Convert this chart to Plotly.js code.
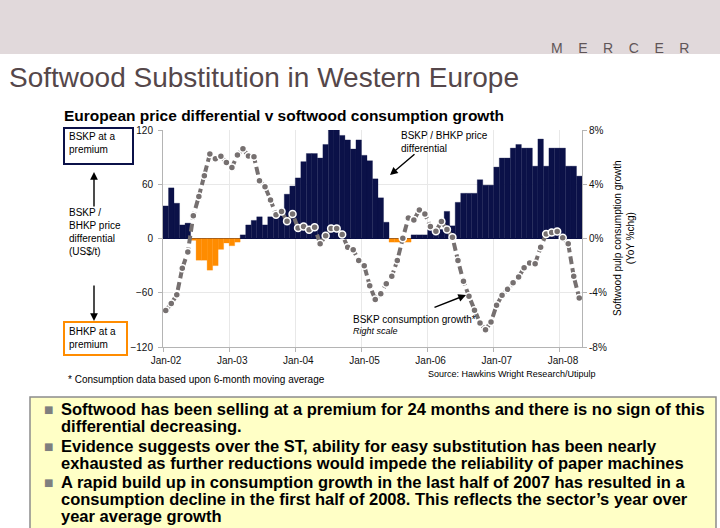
<!DOCTYPE html>
<html>
<head>
<meta charset="utf-8">
<script src="https://cdn.plot.ly/plotly-3.0.1.min.js"></script>
<style>
html,body{margin:0;padding:0;background:#ffffff;}
#chart{width:720px;height:528px;}
</style>
</head>
<body>
<div id="chart"></div>
<script>
// ---------------- DATA ----------------
const yearLabels = ['Jan-02','Jan-03','Jan-04','Jan-05','Jan-06','Jan-07','Jan-08'];

// BSKP / BHKP price differential, US$/t, monthly Jan-02 .. Apr-08 (left scale)
const priceDiff = [
  36, 56, 39, 15, 17, -2, -24, -24, -35, -30, -12, -5,
  -8, -4, 4, 15, 20, 24, 15, 24, 24, 28, 49, 58,
  67, 85, 94, 94, 89, 104, 120, 120, 114, 109, 99, 109,
  92, 86, 66, 45, 18, -4, -4, -4, -4, 4, 4, 4,
  10, 10, 10, 30, 14, 40, 50, 50, 50, 65, 59, 59,
  79, 89, 89, 100, 104, 100, 100, 80, 110, 80, 100, 100,
  100, 80, 80, 69
];

// Softwood pulp consumption growth, YoY %, monthly (right scale)
const consGrowth = [
  -5.3, -4.8, -4.15, -2.2, -1.0, 1.68, 3.1, 4.63, 6.23, 5.88, 6.06, 5.61,
  5.24, 6.15, 6.62, 6.08, 6.03, 4.26, 3.82, 2.84, 1.76, 1.99, 1.27, 1.81,
  0.78, 0.88, 0.64, 0.83, -0.39, 0.2, 0.74, 0.74, 0.29, -0.64, -0.83, -1.62,
  -2.0, -3.48, -4.49, -4.07, -3.33, -2.79, -1.62, 0.02, 1.52, 1.37, 2.11, 1.81,
  0.88, 0.54, 1.25, 0.66, 0.1, -1.62, -3.16, -4.26, -5.29, -6.23, -6.72, -6.15,
  -4.93, -4.19, -3.75, -3.26, -2.84, -2.16, -1.81, -1.86, -0.64, 0.34, 0.44, 0.51,
  0.05, -0.39, -2.79, -4.39
];

const leftTicks = [-120, -60, 0, 60, 120];
const rightTicks = [-8, -4, 0, 4, 8];
const rightTickText = ['-8%', '-4%', '0%', '4%', '8%'];

// ---------------- STYLE ----------------
const NAVY = '#0b1148';
const ORANGE = '#ff8c00';
const LINEGREY = '#767070';
const AXISGREY = '#b4b4b4';
const GRID = '#e8e8e8';
const FONT = 'Liberation Sans, Arial, sans-serif';

const L = 163, R = 582, T = 130, B = 347;
const fx = px => (px - L) / (R - L);
const fy = py => (B - py) / (B - T);

const monthIdx = priceDiff.map((_, i) => i);
const barColors = priceDiff.map(v => v >= 0 ? NAVY : ORANGE);

const bars = {
  type: 'bar', x: monthIdx, y: priceDiff, yaxis: 'y', xaxis: 'x',
  width: 1, marker: {color: barColors, line: {color: barColors, width: 0.3}},
  hoverinfo: 'skip', showlegend: false
};
const line = {
  type: 'scatter', mode: 'lines+markers', x: monthIdx, y: consGrowth,
  xaxis: 'x', yaxis: 'y2',
  line: {color: LINEGREY, width: 4, dash: '8px,4px'},
  marker: {color: LINEGREY, size: 7, line: {color: '#ffffff', width: 1.5}},
  hoverinfo: 'skip', showlegend: false
};

const anns = [];
function txt(text, px, py, size, opts) {
  anns.push(Object.assign({
    xref: 'paper', yref: 'paper', x: fx(px), y: fy(py), text: text,
    showarrow: false, xanchor: 'left', yanchor: 'middle', align: 'left',
    font: {family: FONT, size: size, color: '#000000'}
  }, opts || {}));
}
function arrow(hx, hy, tx, ty) {
  anns.push({
    xref: 'paper', yref: 'paper', x: fx(hx), y: fy(hy), text: '',
    showarrow: true, ax: tx - hx, ay: ty - hy, arrowhead: 2, arrowsize: 1.1,
    arrowwidth: 1.4, arrowcolor: '#000000'
  });
}

// header
txt('M\u00a0\u00a0\u00a0\u00a0E\u00a0\u00a0\u00a0\u00a0R\u00a0\u00a0\u00a0\u00a0C\u00a0\u00a0\u00a0\u00a0E\u00a0\u00a0\u00a0\u00a0R', 549, 48, 14, {font: {family: FONT, size: 14, color: '#5f5557'}});
txt('Softwood Substitution in Western Europe', 7, 77, 28, {font: {family: FONT, size: 28, color: '#55474a'}});
txt('<b>European price differential v softwood consumption growth</b>', 62, 115, 15.5);

// left side explanation
txt('BSKP at a<br>premium', 67, 143, 10);
txt('BSKP /<br>BHKP price<br>differential<br>(US$/t)', 67, 232, 10);
txt('BHKP at a<br>premium', 67, 338, 10);
arrow(94, 172, 94, 208);
arrow(94, 321, 94, 284);

// in-plot labels
txt('BSKP / BHKP price<br>differential', 399, 142, 10);
arrow(390, 175, 416, 153);
txt('BSKP consumption growth*', 351, 319.5, 10);
txt('<i>Right scale</i>', 351, 331, 9);
arrow(466, 295, 433, 308);

// right axis title
anns.push({
  xref: 'paper', yref: 'paper', x: fx(624), y: fy(238), showarrow: false,
  text: 'Softwood pulp consumption growth<br>(YoY %chg)', textangle: -90,
  xanchor: 'center', yanchor: 'middle', align: 'center',
  font: {family: FONT, size: 10, color: '#000000'}
});

// footnotes
txt('* Consumption data based upon 6-month moving average', 66, 379, 10);
txt('Source: Hawkins Wright Research/Utipulp', 426, 374, 9);

// bullet box text
const bulletLines = [
  ['Softwood has been selling at a premium for 24 months and there is no sign of this', 409, true],
  ['differential decreasing.', 426, false],
  ['Evidence suggests over the ST, ability for easy substitution has been nearly', 446, true],
  ['exhausted as further reductions would impede the reliability of paper machines', 463, false],
  ['A rapid build up in consumption growth in the last half of 2007 has resulted in a', 482, true],
  ['consumption decline in the first half of 2008. This reflects the sector\u2019s year over', 499, false],
  ['year average growth', 516, false]
];
bulletLines.forEach(b => {
  txt('<b>' + b[0] + '</b>', 59, b[1], 16.5);
  if (b[2]) txt('\u25A0', 42, b[1], 11, {font: {family: 'DejaVu Sans, ' + FONT, size: 10, color: '#7f7f7f'}});
});

const shapes = [
  {type: 'rect', xref: 'paper', yref: 'paper', x0: fx(0), x1: fx(720), y0: fy(54), y1: fy(0),
   fillcolor: '#e1d9db', line: {width: 0}, layer: 'below'},
  {type: 'rect', xref: 'paper', yref: 'paper', x0: fx(30), x1: fx(716), y0: fy(530), y1: fy(397),
   fillcolor: '#ffffc6', line: {color: '#8c8c8c', width: 1.5}, layer: 'below'},
  {type: 'rect', xref: 'paper', yref: 'paper', x0: fx(64), x1: fx(133), y0: fy(164), y1: fy(128),
   fillcolor: 'rgba(0,0,0,0)', line: {color: NAVY, width: 2}},
  {type: 'rect', xref: 'paper', yref: 'paper', x0: fx(64), x1: fx(127), y0: fy(355), y1: fy(322),
   fillcolor: 'rgba(0,0,0,0)', line: {color: ORANGE, width: 2}}
];

const layout = {
  width: 720, height: 528,
  margin: {l: L, r: 720 - R, t: T, b: 528 - B, pad: 0},
  paper_bgcolor: '#ffffff', plot_bgcolor: '#ffffff',
  font: {family: FONT, size: 10, color: '#000000'},
  bargap: 0, showlegend: false,
  xaxis: {
    range: [-0.5, priceDiff.length - 0.5],
    tickmode: 'array', tickvals: yearLabels.map((_, i) => i * 12 - 0.5), ticktext: yearLabels,
    ticklabelshift: 3,
    showgrid: true, gridcolor: GRID, gridwidth: 1, zeroline: false,
    showline: true, linecolor: AXISGREY, linewidth: 1,
    ticks: 'outside', ticklen: 4, tickcolor: AXISGREY,
    tickfont: {family: FONT, size: 10, color: '#111111'}, fixedrange: true
  },
  yaxis: {
    range: [-120, 120], tickmode: 'array', tickvals: leftTicks,
    ticklabelstandoff: 3,
    showgrid: true, gridcolor: GRID, gridwidth: 1,
    zeroline: true, zerolinecolor: NAVY, zerolinewidth: 1,
    showline: true, linecolor: AXISGREY, linewidth: 1,
    ticks: 'outside', ticklen: 4, tickcolor: AXISGREY,
    tickfont: {family: FONT, size: 10, color: '#111111'}, fixedrange: true
  },
  yaxis2: {
    overlaying: 'y', side: 'right', anchor: 'x',
    range: [-8, 8], tickmode: 'array', tickvals: rightTicks, ticktext: rightTickText,
    showgrid: false, zeroline: false,
    showline: true, linecolor: AXISGREY, linewidth: 1,
    ticks: 'outside', ticklen: 4, tickcolor: AXISGREY,
    tickfont: {family: FONT, size: 10, color: '#111111'}, fixedrange: true
  },
  shapes: shapes,
  annotations: anns
};

Plotly.newPlot('chart', [bars, line], layout, {staticPlot: true, displayModeBar: false});
</script>
</body>
</html>
